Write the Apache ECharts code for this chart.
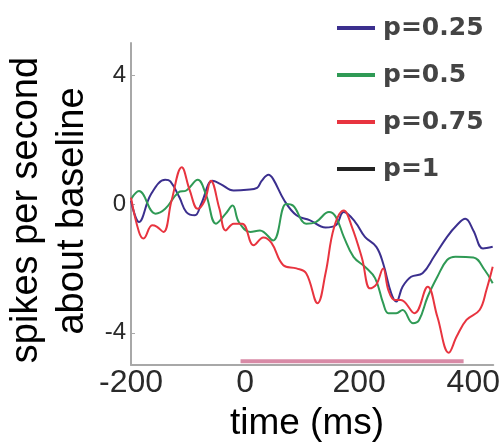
<!DOCTYPE html>
<html>
<head>
<meta charset="utf-8">
<script src="https://cdn.jsdelivr.net/npm/echarts@6/dist/echarts.min.js"></script>
<style>html,body{margin:0;padding:0;background:#fff;}#chart{width:503px;height:445px;}</style>
</head>
<body>
<div id="chart"></div>
<script>
// time (ms) and values (spikes/s about baseline)
var p025 = [[-200,0.1],[-186,-0.56],[-165,0.3],[-140,0.75],[-131,0.7],[-115,0.2],[-103,-0.25],[-88,-0.35],[-77,0],[-57,0.72],[-43,0.62],[-20,0.42],[3,0.44],[21,0.5],[29,0.72],[41,0.91],[49,0.78],[69,0.1],[90,-0.35],[113,-0.5],[141,-0.73],[159,-0.66],[173,-0.25],[193,-0.56],[210,-1.02],[230,-1.33],[242,-1.85],[256,-2.77],[265,-3.03],[276,-2.57],[291,-2.26],[311,-2.15],[331,-1.64],[354,-1.02],[371,-0.66],[386,-0.46],[400,-0.82],[417,-1.38],[434,-1.33]];
var p050 = [[-200,0.15],[-186,0.4],[-157,-0.3],[-140,-0.15],[-117,0.36],[-103,0.42],[-83,0.75],[-68,0.26],[-51,-0.61],[-34,-0.3],[-22,-0.05],[-11,-0.56],[9,-0.87],[26,-0.82],[49,-1.13],[72,0],[84,-0.05],[107,-0.61],[124,-0.56],[147,-0.25],[159,-0.4],[173,-1.02],[190,-1.64],[210,-1.95],[228,-2.31],[242,-3.08],[251,-3.39],[265,-3.39],[276,-3.29],[294,-3.7],[305,-3.6],[320,-2.88],[337,-2.26],[354,-1.74],[369,-1.64],[400,-1.66],[420,-2.05],[434,-2.46]];
var p075 = [[-200,0.2],[-186,-0.87],[-178,-1.07],[-163,-0.66],[-155,-0.7],[-143,-0.87],[-129,0.1],[-111,1.14],[-97,0.42],[-83,-0.15],[-71,0.1],[-60,0.72],[-45,-0.15],[-34,-0.82],[-20,-0.61],[-5,-0.61],[15,-1.28],[32,-1.04],[46,-1.2],[67,-1.9],[90,-2.0],[107,-2.15],[127,-3.08],[141,-2.15],[156,-0.72],[173,-0.2],[187,-0.7],[205,-1.69],[219,-2.62],[230,-2.5],[242,-2.0],[251,-2.67],[262,-2.98],[273,-2.98],[297,-3.39],[320,-2.57],[337,-3.5],[357,-4.62],[371,-4.11],[388,-3.6],[411,-3.29],[423,-2.67],[434,-1.95]];
var p100 = [];
var stimulusBar = [[-8,-4.88],[383,-4.88]];
var seriesNames = ['p=0.25','p=0.5','p=0.75','p=1'];
var xTicks = [-200,0,200,400];
var yTicks = [-4,0,4];

var chart = echarts.init(document.getElementById('chart'));
var colors = ['#3b2f8e','#2f9a55','#e8343f','#222222'];
var datas = [p025,p050,p075,p100];
var series = datas.map(function(d,i){
  return {name: seriesNames[i], type:'line', data:d, smooth:0.4, showSymbol:false,
    lineStyle:{color:colors[i], width:2}, itemStyle:{color:colors[i]}, z:3+i};
});
series.push({name:'stim', type:'line', data:stimulusBar, showSymbol:false,
  lineStyle:{color:'#d88aa6', width:4}, z:2, silent:true});

chart.setOption({
  animation:false,
  backgroundColor:'#fff',
  grid:{left:131, right:3, top:43, bottom:80, containLabel:false},
  legend:{data:seriesNames, orient:'vertical', left:332, top:8, itemWidth:38, itemHeight:4, itemGap:17,
    icon:'rect', textStyle:{fontFamily:'DejaVu Sans', fontWeight:'bold', fontSize:25, color:'#444', lineHeight:30, padding:[0,0,0,3]}},
  xAxis:{type:'value', min:-200, max:435,
    axisLine:{show:true, onZero:false, lineStyle:{color:'#a8a8a8', width:2}},
    axisTick:{show:false},
    splitLine:{show:false},
    axisLabel:{customValues:xTicks, fontFamily:'Liberation Sans', fontSize:32, color:'#2a2a2a', margin:2}
  },
  yAxis:{type:'value', min:-5, max:5,
    axisLine:{show:true, onZero:false, lineStyle:{color:'#a8a8a8', width:2}},
    axisTick:{show:true, customValues:yTicks, inside:true, length:4, lineStyle:{color:'#a8a8a8'}},
    splitLine:{show:false},
    axisLabel:{customValues:yTicks, fontFamily:'Liberation Sans', fontSize:24, color:'#2a2a2a', margin:5}
  },
  graphic:[
    {type:'text', x:27, y:210, rotation:Math.PI/2, style:{text:'spikes per second', font:'38px "Liberation Sans"', fill:'#000', textAlign:'center', textVerticalAlign:'middle'}},
    {type:'text', x:73, y:211, rotation:Math.PI/2, style:{text:'about baseline', font:'38px "Liberation Sans"', fill:'#000', textAlign:'center', textVerticalAlign:'middle'}},
    {type:'text', x:307, y:424, style:{text:'time (ms)', font:'37px "Liberation Sans"', fill:'#000', textAlign:'center', textVerticalAlign:'middle'}}
  ],
  series:series
});
</script>
</body>
</html>
